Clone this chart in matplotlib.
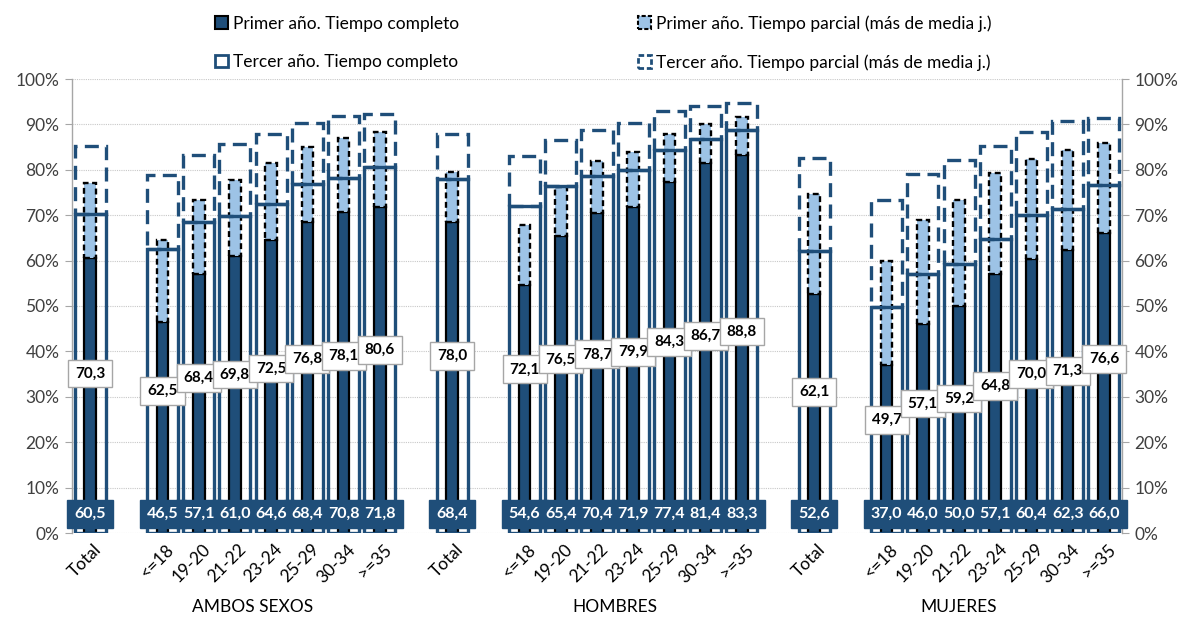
import matplotlib
matplotlib.use("Agg")
import matplotlib.pyplot as plt
from matplotlib.patches import Patch
from matplotlib.transforms import ScaledTranslation, blended_transform_factory

plt.rcParams['font.family'] = ['Lato', 'DejaVu Sans']

# ---------------- data ----------------
groups = ["AMBOS SEXOS", "HOMBRES", "MUJERES"]
categories = ["Total", "<=18", "19-20", "21-22", "23-24", "25-29", "30-34", ">=35"]

primer_completo = [
    [60.5, 46.5, 57.1, 61.0, 64.6, 68.4, 70.8, 71.8],
    [68.4, 54.6, 65.4, 70.4, 71.9, 77.4, 81.4, 83.3],
    [52.6, 37.0, 46.0, 50.0, 57.1, 60.4, 62.3, 66.0],
]
primer_parcial = [
    [16.7, 18.0, 16.3, 16.7, 17.0, 16.6, 16.2, 16.5],
    [11.1, 13.3, 10.9, 11.5, 12.0, 10.4, 8.7, 8.3],
    [22.1, 23.0, 23.0, 23.4, 22.1, 21.9, 22.0, 20.0],
]
tercer_completo = [
    [70.3, 62.5, 68.4, 69.8, 72.5, 76.8, 78.1, 80.6],
    [78.0, 72.1, 76.5, 78.7, 79.9, 84.3, 86.7, 88.8],
    [62.1, 49.7, 57.1, 59.2, 64.8, 70.0, 71.3, 76.6],
]
tercer_parcial = [
    [14.9, 16.3, 14.9, 15.8, 15.3, 13.6, 13.8, 11.8],
    [9.9, 10.9, 10.1, 10.1, 10.4, 8.6, 7.3, 6.0],
    [20.4, 23.7, 21.9, 22.9, 20.4, 18.4, 19.5, 14.8],
]

legend_labels = ["Primer año. Tiempo completo", "Tercer año. Tiempo completo",
                 "Primer año. Tiempo parcial (más de media j.)",
                 "Tercer año. Tiempo parcial (más de media j.)"]

# ---------------- style ----------------
NAVY = "#1F4E79"
LIGHT = "#9DC3E6"
INNER_W = 0.32
OUTER_W = 0.86


def fmt(v):
    return f"{v:.1f}".replace(".", ",")


# slot positions: Total, blank, 7 ages, blank  per group
xs_all, labels_all, pc, pp, tc, tp = [], [], [], [], [], []
for g in range(len(groups)):
    base = 10 * g
    for i, cat in enumerate(categories):
        x = base if i == 0 else base + 1 + i
        xs_all.append(x)
        labels_all.append(cat)
        pc.append(primer_completo[g][i])
        pp.append(primer_parcial[g][i])
        tc.append(tercer_completo[g][i])
        tp.append(tercer_parcial[g][i])

fig = plt.figure(figsize=(11.84, 6.17), dpi=100)
ax = fig.add_axes([72 / 1184, 1 - 533 / 617, 1050 / 1184, 454 / 617])
ax.set_xlim(-0.5, 28.5)
ax.set_ylim(0, 100)

# inner bars (first year)
ax.bar(xs_all, pc, width=INNER_W, color=NAVY, edgecolor="black", linewidth=1.6, zorder=2)
ax.bar(xs_all, pp, bottom=pc, width=INNER_W, color=LIGHT, edgecolor="black",
       linewidth=1.7, linestyle=(0, (2.5, 1.5)), zorder=2)
# outer bars (third year)
ax.bar(xs_all, tc, width=OUTER_W, facecolor="none", edgecolor=NAVY, linewidth=2.4, zorder=3)
ax.bar(xs_all, tp, bottom=tc, width=OUTER_W, facecolor="none", edgecolor=NAVY,
       linewidth=2.4, linestyle=(0, (4.2, 2.2)), zorder=3)

# dark labels: boxes first, then texts on top so every value stays readable
for x, v in zip(xs_all, pc):
    ax.text(x, 4.2, fmt(v), ha="center", va="center", color=NAVY, fontsize=11.5,
            fontweight="bold", zorder=5,
            bbox=dict(boxstyle="square,pad=0.45", fc=NAVY, ec=NAVY, lw=1))
for x, v in zip(xs_all, pc):
    ax.text(x, 4.2, fmt(v), ha="center", va="center", color="white", fontsize=11.5,
            fontweight="bold", zorder=6)
# white labels for third-year full time
for x, v in zip(xs_all, tc):
    ax.text(x, v / 2, fmt(v), ha="center", va="center", color="black", fontsize=11,
            fontweight="bold", zorder=7,
            bbox=dict(boxstyle="square,pad=0.45", fc="white", ec="#A6A6A6", lw=1))

# axes styling
ax.set_yticks(range(0, 101, 10))
ax.set_yticklabels([f"{v}%" for v in range(0, 101, 10)])
ax.yaxis.set_ticks_position("both")
ax.tick_params(axis="y", which="both", direction="out", length=5, color="#A6A6A6",
               labelleft=True, labelright=True, labelsize=12.5, labelcolor="#404040", pad=4)
ax.grid(axis="y", color="#C8C8C8", linestyle=(0, (1, 1)), linewidth=0.8, zorder=0)
ax.set_axisbelow(True)
for s in ["top", "bottom"]:
    ax.spines[s].set_visible(False)
for s in ["left", "right"]:
    ax.spines[s].set_color("#A6A6A6")
    ax.spines[s].set_linewidth(1)

ax.set_xticks(xs_all)
ax.set_xticklabels(labels_all, rotation=45, ha="right", va="center",
                   rotation_mode="anchor", fontsize=12.5, color="black")
ax.tick_params(axis="x", length=0, pad=10)
offset = ScaledTranslation(9 / 100, 0, fig.dpi_scale_trans)
for lbl in ax.get_xticklabels():
    lbl.set_transform(lbl.get_transform() + offset)

trans = blended_transform_factory(ax.transData, fig.transFigure)
for g, name in enumerate(groups):
    gx = 10 * g + (4.5 if g < len(groups) - 1 else 4.0)
    ax.text(gx, 1 - 607 / 617, name, transform=trans, ha="center", va="center",
            fontsize=12.5, color="black")

handles = [
    Patch(facecolor=NAVY, edgecolor="black", linewidth=1.5),
    Patch(facecolor="white", edgecolor=NAVY, linewidth=2),
    Patch(facecolor=LIGHT, edgecolor="black", linewidth=1.5, linestyle=(0, (2, 1))),
    Patch(facecolor="white", edgecolor=NAVY, linewidth=2, linestyle=(0, (2, 1))),
]
fig.legend(handles, legend_labels, ncol=2, loc="upper left",
           bbox_to_anchor=(215 / 1184, 1 - 15 / 617), frameon=False, fontsize=12.5,
           handlelength=0.75, handleheight=0.75, handletextpad=0.3,
           labelspacing=1.3, columnspacing=10.3, borderpad=0, borderaxespad=0)

fig.savefig("out.png", dpi=100)
